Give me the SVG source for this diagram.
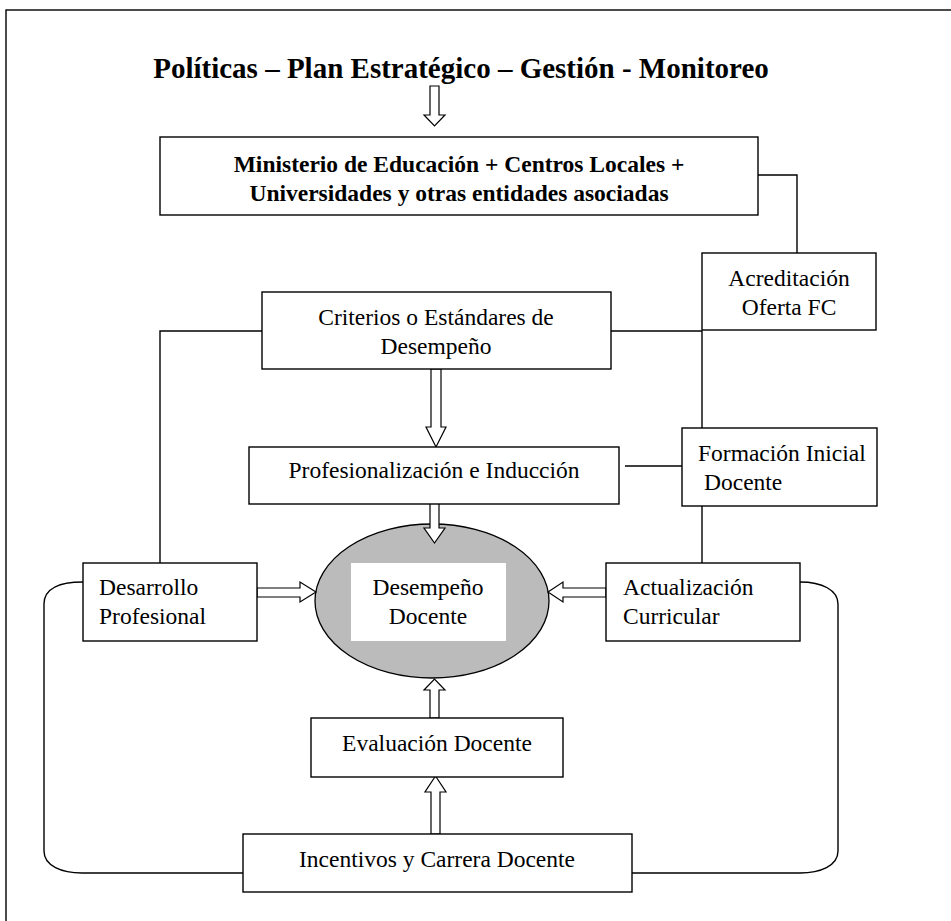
<svg xmlns="http://www.w3.org/2000/svg" width="951" height="921" viewBox="0 0 951 921">
<style>
.box{fill:#fff;stroke:#000;stroke-width:1.4}
.t{font-family:"Liberation Serif","Times New Roman",serif;font-size:23.5px;fill:#000}
.b{font-weight:bold}
.c{text-anchor:middle}
.ln{fill:none;stroke:#000;stroke-width:1.4}
.ar{fill:#fff;stroke:#000;stroke-width:1.2;stroke-linejoin:miter}
</style>
<rect x="0" y="0" width="951" height="921" fill="#fff"/>
<rect x="6" y="10" width="1000" height="1000" fill="none" stroke="#000" stroke-width="1.4"/>
<text class="t b c" x="461" y="78" style="font-size:29px">Políticas – Plan Estratégico – Gestión - Monitoreo</text>

<g id="connectors">
  <path class="ln" d="M758,175 H797 V253"/>
  <path class="ln" d="M262,331 H160 V563"/>
  <path class="ln" d="M611,331 H702 V428"/>
  <path class="ln" d="M702,506 V563"/>
  <path class="ln" d="M625,466 H682"/>
  <path class="ln" d="M83,582 C60,582 44,588 44,604 V851 C44,866 62,873 82,873 H243"/>
  <path class="ln" d="M800,582 C822,582 838,590 838,604 V851 C838,866 820,873 800,873 H632"/>
</g>

<g id="ellipse-desempeno">
  <ellipse cx="432" cy="601" rx="117" ry="77" fill="#bbbbbb" stroke="#000" stroke-width="1.3"/>
  <rect x="351" y="563" width="155" height="78" fill="#fff"/>
  <text class="t c" x="428" y="595">Desempeño</text>
  <text class="t c" x="428" y="624">Docente</text>
</g>

<g id="arrows">
  <polygon class="ar" points="430,86 439,86 439,115 445,115 434.5,126 424,115 430,115"/>
  <polygon class="ar" points="431,369 441,369 441,427 446,427 436,447 426,427 431,427"/>
  <polygon class="ar" points="430,486 439,486 439,528 445,528 434.5,543 424,528 430,528"/>
  <polygon class="ar" points="430,718 439,718 439,690 445,690 434.5,679 424,690 430,690"/>
  <polygon class="ar" points="431,834 440,834 440,792 446,792 435.5,776 425,792 431,792"/>
  <polygon class="ar" points="257,588 300,588 300,582 316,592 300,602 300,597 257,597"/>
  <polygon class="ar" points="606,588 563,588 563,582 548,592 563,602 563,597 606,597"/>
</g>

<g id="ministerio">
  <rect class="box" x="160" y="137" width="598" height="78"/>
  <text class="t b c" x="459" y="172">Ministerio de Educación + Centros Locales +</text>
  <text class="t b c" x="459" y="201">Universidades y otras entidades asociadas</text>
</g>
<g id="acreditacion">
  <rect class="box" x="702" y="253" width="174" height="77"/>
  <text class="t c" x="789" y="286">Acreditación</text>
  <text class="t c" x="789" y="315">Oferta FC</text>
</g>
<g id="criterios">
  <rect class="box" x="262" y="292" width="349" height="77"/>
  <text class="t c" x="436" y="325">Criterios o Estándares de</text>
  <text class="t c" x="436" y="354">Desempeño</text>
</g>
<g id="profesionalizacion">
  <rect class="box" x="249" y="447" width="370" height="57"/>
  <text class="t c" x="434" y="478">Profesionalización e Inducción</text>
</g>
<g id="formacion">
  <rect class="box" x="682" y="428" width="195" height="78"/>
  <text class="t" x="698" y="461">Formación Inicial</text>
  <text class="t" x="704" y="490">Docente</text>
</g>
<g id="desarrollo">
  <rect class="box" x="83" y="563" width="174" height="78"/>
  <text class="t" x="99" y="595">Desarrollo</text>
  <text class="t" x="99" y="624">Profesional</text>
</g>
<g id="actualizacion">
  <rect class="box" x="606" y="563" width="194" height="78"/>
  <text class="t" x="623" y="595">Actualización</text>
  <text class="t" x="623" y="624">Curricular</text>
</g>
<g id="evaluacion">
  <rect class="box" x="311" y="718" width="252" height="59"/>
  <text class="t c" x="437" y="751">Evaluación Docente</text>
</g>
<g id="incentivos">
  <rect class="box" x="243" y="834" width="389" height="58"/>
  <text class="t c" x="437" y="867">Incentivos y Carrera Docente</text>
</g>
</svg>
